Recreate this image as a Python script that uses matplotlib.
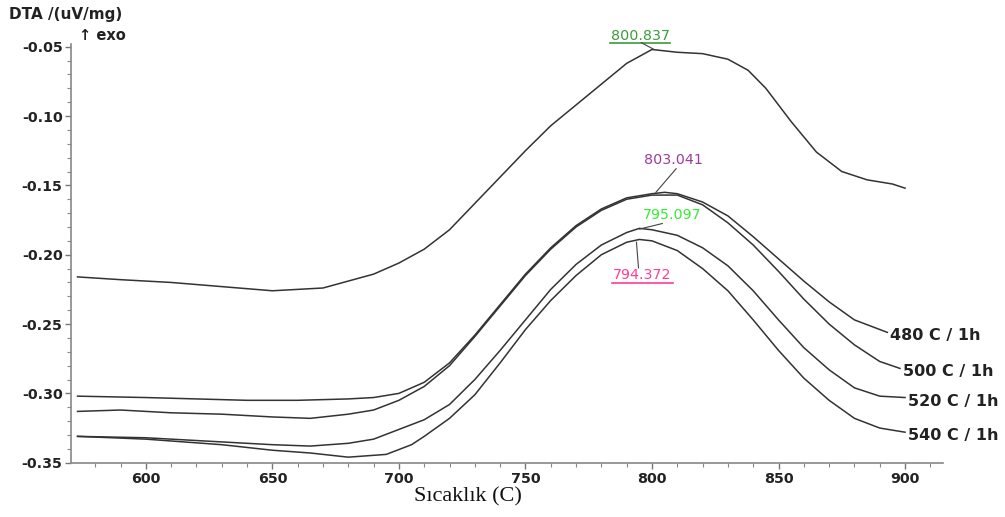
import matplotlib
matplotlib.use('Agg')
from matplotlib import pyplot as plt
from matplotlib.ticker import MultipleLocator

# curve data (temperature C, DTA uV/mg)
t_top = [573, 590, 610, 630, 650, 670, 690, 700, 710, 720, 730, 740, 750, 760, 770,
         780, 790, 800, 810, 820, 830, 838, 845, 855, 865, 875, 885, 895, 900]
v_top = [-0.216, -0.218, -0.220, -0.223, -0.226, -0.224, -0.214, -0.206, -0.196, -0.182,
         -0.163, -0.144, -0.125, -0.107, -0.092, -0.077, -0.062, -0.052, -0.054, -0.055,
         -0.059, -0.067, -0.080, -0.104, -0.126, -0.140, -0.146, -0.149, -0.152]

t_480 = [573, 600, 620, 640, 660, 680, 690, 700, 710, 720, 730, 740, 750, 760, 770,
         780, 790, 800, 805, 810, 820, 830, 840, 850, 860, 870, 880, 893]
v_480 = [-0.302, -0.303, -0.304, -0.305, -0.305, -0.304, -0.303, -0.300, -0.292, -0.278,
         -0.258, -0.236, -0.214, -0.195, -0.179, -0.167, -0.159, -0.156, -0.155, -0.156,
         -0.162, -0.172, -0.187, -0.203, -0.219, -0.234, -0.247, -0.256]

t_500 = [573, 590, 610, 630, 650, 665, 680, 690, 700, 710, 720, 730, 740, 750, 760,
         770, 780, 790, 800, 810, 820, 830, 840, 850, 860, 870, 880, 890, 898]
v_500 = [-0.313, -0.312, -0.314, -0.315, -0.317, -0.318, -0.315, -0.312, -0.305, -0.295,
         -0.280, -0.259, -0.237, -0.215, -0.196, -0.180, -0.168, -0.160, -0.157, -0.157,
         -0.164, -0.177, -0.193, -0.212, -0.232, -0.250, -0.265, -0.277, -0.282]

t_520 = [573, 600, 630, 650, 665, 680, 690, 700, 710, 720, 730, 740, 750, 760, 770,
         780, 790, 795, 800, 810, 820, 830, 840, 850, 860, 870, 880, 890, 900]
v_520 = [-0.331, -0.332, -0.335, -0.337, -0.338, -0.336, -0.333, -0.326, -0.319, -0.308,
         -0.290, -0.269, -0.247, -0.225, -0.207, -0.193, -0.184, -0.181, -0.182, -0.186,
         -0.195, -0.208, -0.226, -0.247, -0.267, -0.283, -0.296, -0.302, -0.303]

t_540 = [573, 600, 630, 650, 665, 680, 695, 705, 710, 720, 730, 740, 750, 760, 770,
         780, 790, 795, 800, 810, 820, 830, 840, 850, 860, 870, 880, 890, 900]
v_540 = [-0.331, -0.333, -0.337, -0.341, -0.343, -0.346, -0.344, -0.337, -0.331, -0.318,
         -0.301, -0.278, -0.254, -0.233, -0.215, -0.200, -0.191, -0.189, -0.190, -0.197,
         -0.210, -0.226, -0.247, -0.269, -0.289, -0.305, -0.318, -0.325, -0.328]

curve_names = ['480 C / 1h', '500 C / 1h', '520 C / 1h', '540 C / 1h']

peak_labels = ['800.837', '803.041', '795.097', '794.372']
peak_x = [800.837, 803.041, 795.097, 794.372]
peak_y = [-0.052, -0.155, -0.181, -0.189]
peak_colors = ['#3c9b3c', '#9b3c9b', '#33ee33', '#ff3c96']

plt.close('all')
fig = plt.figure(figsize=(10.05, 5.17), dpi=100)
ax = fig.add_axes([0.0706, 0.105, 0.8677, 0.81])

line_col = '#333333'
ax.plot(t_top, v_top, color=line_col, lw=1.1)
ax.plot(t_480, v_480, color=line_col, lw=1.1)
ax.plot(t_500, v_500, color=line_col, lw=1.1)
ax.plot(t_520, v_520, color=line_col, lw=1.1)
ax.plot(t_540, v_540, color=line_col, lw=1.1)

ax.set_xlim(570.4, 915)
ax.set_ylim(-0.35, -0.048)
ax.xaxis.set_major_locator(MultipleLocator(50))
ax.xaxis.set_minor_locator(MultipleLocator(10))
ax.yaxis.set_minor_locator(MultipleLocator(0.01))
ax.set_yticks([-0.35, -0.30, -0.25, -0.20, -0.15, -0.10, -0.05])
ax.set_yticklabels(['-0.35', '-0.30', '-0.25', '-0.20', '-0.15', '-0.10', '-0.05'])

for s in ['top', 'right']:
    ax.spines[s].set_visible(False)
for s in ['left', 'bottom']:
    ax.spines[s].set_color('#888888')
    ax.spines[s].set_linewidth(1.2)

ax.tick_params(which='major', length=4, color='#777777', width=1)
ax.tick_params(which='minor', length=3, color='#888888', width=0.8)
ax.tick_params(axis='x', which='major', pad=3)
ax.tick_params(axis='y', which='major', pad=2)
for lab in ax.get_xticklabels() + ax.get_yticklabels():
    lab.set_fontfamily('DejaVu Sans')
    lab.set_fontweight('bold')
    lab.set_fontsize(10.3)
    lab.set_color('#222222')

# end labels of the curves
ends = [(t_480[-1], v_480[-1]), (t_500[-1], v_500[-1]),
        (t_520[-1], v_520[-1]), (t_540[-1], v_540[-1])]
for name, (ex, ey) in zip(curve_names, ends):
    ax.text(ex + 1.2, ey - 0.0025, name, fontsize=11.5, fontweight='bold', family='DejaVu Sans',
            color='#222222', va='center', ha='left', clip_on=False)

# peak annotations
# 800.837 - above top curve, underlined
tx, ty = 795.3, -0.0421
ax.text(tx, ty, peak_labels[0], color=peak_colors[0], fontsize=10.3, ha='center',
        va='center', family='DejaVu Sans', clip_on=False)
ax.plot([tx - 11.8, tx + 11.8], [ty - 0.005, ty - 0.005], color=peak_colors[0], lw=1.2, clip_on=False)
ax.plot([tx + 0.5, peak_x[0]], [ty - 0.005, peak_y[0]], color='#444444', lw=0.8, clip_on=False)

# 803.041
tx, ty = peak_x[1] + 5.5, peak_y[1] + 0.0235
ax.text(tx, ty, peak_labels[1], color=peak_colors[1], fontsize=10.3, ha='center',
        va='center', family='DejaVu Sans')
ax.plot([tx + 1, peak_x[1] - 1.5], [ty - 0.0065, peak_y[1]], color='#444444', lw=0.8)

# 795.097
tx, ty = peak_x[2] + 13, peak_y[2] + 0.010
ax.text(tx, ty, peak_labels[2], color=peak_colors[2], fontsize=10.3, ha='center',
        va='center', family='DejaVu Sans')
ax.plot([tx - 4, peak_x[2]], [ty - 0.0065, peak_y[2] - 0.0005], color='#444444', lw=0.8)

# 794.372 - below the 540 curve, underlined
tx, ty = peak_x[3] + 1.8, peak_y[3] - 0.0255
ax.text(tx, ty, peak_labels[3], color=peak_colors[3], fontsize=10.3, ha='center',
        va='center', family='DejaVu Sans')
ax.plot([tx - 12, tx + 12], [ty - 0.0058, ty - 0.0058], color=peak_colors[3], lw=1.2)
ax.plot([tx - 1.5, peak_x[3] - 0.5], [ty + 0.005, peak_y[3] - 0.002], color='#444444', lw=0.8)

# axis titles
fig.text(9 / 1005, 1 - 15 / 517, 'DTA /(uV/mg)', fontsize=11, fontweight='bold',
         family='DejaVu Sans', va='center', ha='left', color='#222222')
fig.text(79 / 1005, 1 - 35 / 517, '\u2191 exo', fontsize=10.5, fontweight='bold',
         family='DejaVu Sans', va='center', ha='left', color='#222222')
fig.text(468 / 1005, 1 - 497 / 517, 'Sıcaklık (C)', fontsize=16,
         family='Liberation Serif', va='center', ha='center', color='#111111')

fig.savefig('out.png', dpi=100)
